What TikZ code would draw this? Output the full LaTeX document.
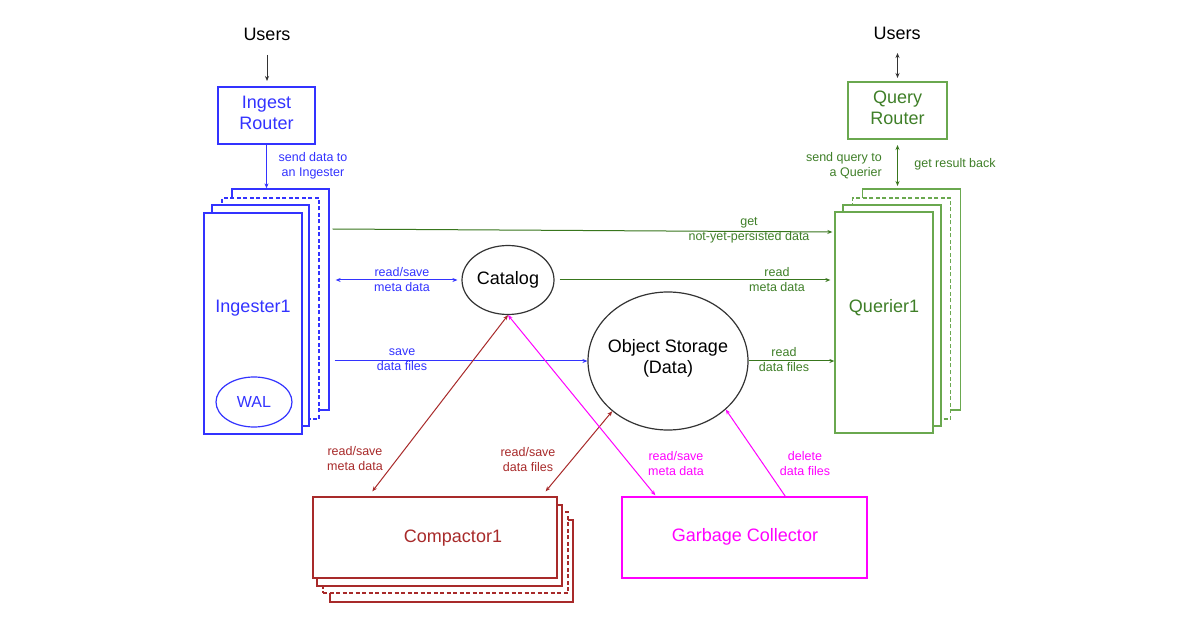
\documentclass[tikz,border=0pt]{standalone}
\usepackage{fontspec}
\setmainfont{Liberation Sans}
\usetikzlibrary{arrows.meta,shapes.geometric,calc}
\definecolor{ib}{HTML}{3333FF}
\definecolor{gline}{HTML}{38761D}
\definecolor{gtext}{HTML}{3F7F28}
\definecolor{gbox}{HTML}{6AA84F}
\definecolor{rd}{HTML}{A82A2A}
\definecolor{pk}{HTML}{FF00FF}
\begin{document}
\begin{tikzpicture}[x=1pt,y=-1pt,
  box/.style={draw,fill=white,line width=1.3pt,rectangle,inner sep=0pt},
  dbox/.style={box,dash pattern=on 4pt off 2.5pt},
  oval/.style={draw=black!80,line width=1.2pt,ellipse,inner sep=0pt},
  big/.style={font=\fontsize{18}{21}\selectfont,align=center,inner sep=0pt},
  lab/.style={font=\fontsize{12.5}{15}\selectfont,align=center,inner sep=0pt},
  arr/.style={line width=1pt,-{Stealth[length=5pt,width=4pt]}},
  darr/.style={line width=1pt,{Stealth[length=5pt,width=4pt]}-{Stealth[length=5pt,width=4pt]}}]
\useasboundingbox (0,0) rectangle (1200,628);
\fill[white] (0,0) rectangle (1200,628);

% Users
\node[big] (u1) at (267,34) {Users};
\node[big] (u2) at (897,33) {Users};

% Routers
\node[box,draw=ib,minimum width=97pt,minimum height=57pt] (ir) at (266.5,115.5) {};
\node[big,text=ib] (irt) at (266.5,113) {Ingest\\Router};
\node[box,draw=gbox,minimum width=99pt,minimum height=57pt] (qr) at (897.5,110.5) {};
\node[big,text=gtext] (qrt) at (897.5,108) {Query\\Router};

% Ingester stack
\node[box,draw=ib,minimum width=97pt,minimum height=221pt] (ingB) at (280.5,299.5) {};
\node[dbox,draw=ib,minimum width=97pt,minimum height=221pt] (ingD) at (270.5,308.5) {};
\node[box,draw=ib,minimum width=97pt,minimum height=221pt] (ingC) at (260.5,315.5) {};
\node[box,draw=ib,minimum width=98pt,minimum height=221pt] (ingF) at (253,323.5) {};
\node[big,text=ib] (ingt) at (253,308) {Ingester1};
\node[oval,draw=ib,minimum width=76pt,minimum height=50pt,font=\fontsize{16}{18}\selectfont,text=ib] (wal) at (254,402) {WAL};

% Querier stack
\node[box,draw=gbox,minimum width=98pt,minimum height=221pt] (qB) at (911.5,299.5) {};
\node[dbox,draw=gbox,minimum width=98pt,minimum height=221pt] (qD) at (901.5,308.5) {};
\node[box,draw=gbox,minimum width=98pt,minimum height=221pt] (qC) at (892,315.5) {};
\node[box,draw=gbox,minimum width=98pt,minimum height=221pt] (qF) at (884,322.5) {};
\node[big,text=gtext] (qt) at (884,308) {Querier1};

% Catalog and Object Storage
\node[oval,minimum width=92pt,minimum height=69pt] (cat) at (508,280) {};
\node[big] (catt) at (508,280) {Catalog};
\node[oval,minimum width=160pt,minimum height=138pt] (os) at (668,361) {};
\node[big] (ost) at (668,358) {Object Storage\\(Data)};

% Compactor stack
\node[box,draw=rd,minimum width=243pt,minimum height=82pt] (cB) at (451.5,561) {};
\node[dbox,draw=rd,minimum width=245pt,minimum height=81pt] (cD) at (445.5,552.5) {};
\node[box,draw=rd,minimum width=245pt,minimum height=81pt] (cC) at (439.5,545.5) {};
\node[box,draw=rd,minimum width=244pt,minimum height=81pt] (cF) at (435,537.5) {};
\node[big,text=rd] (ct) at (453,538) {Compactor1};

% Garbage collector
\node[box,draw=pk,minimum width=245pt,minimum height=81pt] (gc) at (744.5,537.5) {};
\node[big,text=pk] (gct) at (745,537) {Garbage Collector};

% Connectors
\draw[arr,black!80] (u1 |- 0,55) -- (u1 |- 0,81);
\draw[arr,ib] (ir.south) -- (ir.south |- ingB.north);
\draw[darr,black!80] (qr |- 0,53) -- (qr |- 0,78);
\draw[darr,gline] (qr |- 0,145) -- (qr |- 0,186);

\draw[arr,gline] ($(ingB.east |- 0,229)+(3,0)$) -- ($(qF.west |- 0,232)+(-2,0)$);
\draw[darr,ib] ($(ingB.east |- cat.west)+(6,0)$) -- ($(cat.west)+(-4,0)$);
\draw[arr,gline] ($(cat.east)+(5,0)$) -- ($(qF.west |- cat.east)+(-4,0)$);
\draw[arr,ib] ($(ingB.east |- os.west)+(5,0)$) -- (os.west);
\draw[arr,gline] (os.east) -- (qF.west |- 0,361);

\draw[darr,rd] (cat.south) -- ($(cF.north west)+(60,-5)$);
\draw[darr,rd] (os.222) -- ($(cF.north east)+(-12,-5)$);
\draw[darr,pk] (cat.south) -- ($(gc.north west)+(34,-1)$);
\draw[arr,pk] ($(gc.north west)+(164,0)$) -- (os.320);

% Labels
\node[lab,text=ib] (l1) at (313,166) {send data to\\an Ingester};
\node[lab,text=gtext,align=right,anchor=east] (l2) at (882,166) {send query to\\a Querier};
\node[lab,text=gtext] (l3) at (955,164) {get result back};
\node[lab,text=gtext] (l4) at (749,230.5) {get\\not-yet-persisted data};
\node[lab,text=ib] (l5) at (402,280) {read/save\\meta data};
\node[lab,text=gtext] (l6) at (777,280) {read\\meta data};
\node[lab,text=ib] (l7) at (402,360) {save\\data files};
\node[lab,text=gtext] (l8) at (784,360) {read\\data files};
\node[lab,text=rd] (l9) at (355,458.5) {read/save\\meta data};
\node[lab,text=rd] (l10) at (528,459.5) {read/save\\data files};
\node[lab,text=pk] (l11) at (676,463.5) {read/save\\meta data};
\node[lab,text=pk] (l12) at (805,463.5) {delete\\data files};
\end{tikzpicture}
\end{document}
